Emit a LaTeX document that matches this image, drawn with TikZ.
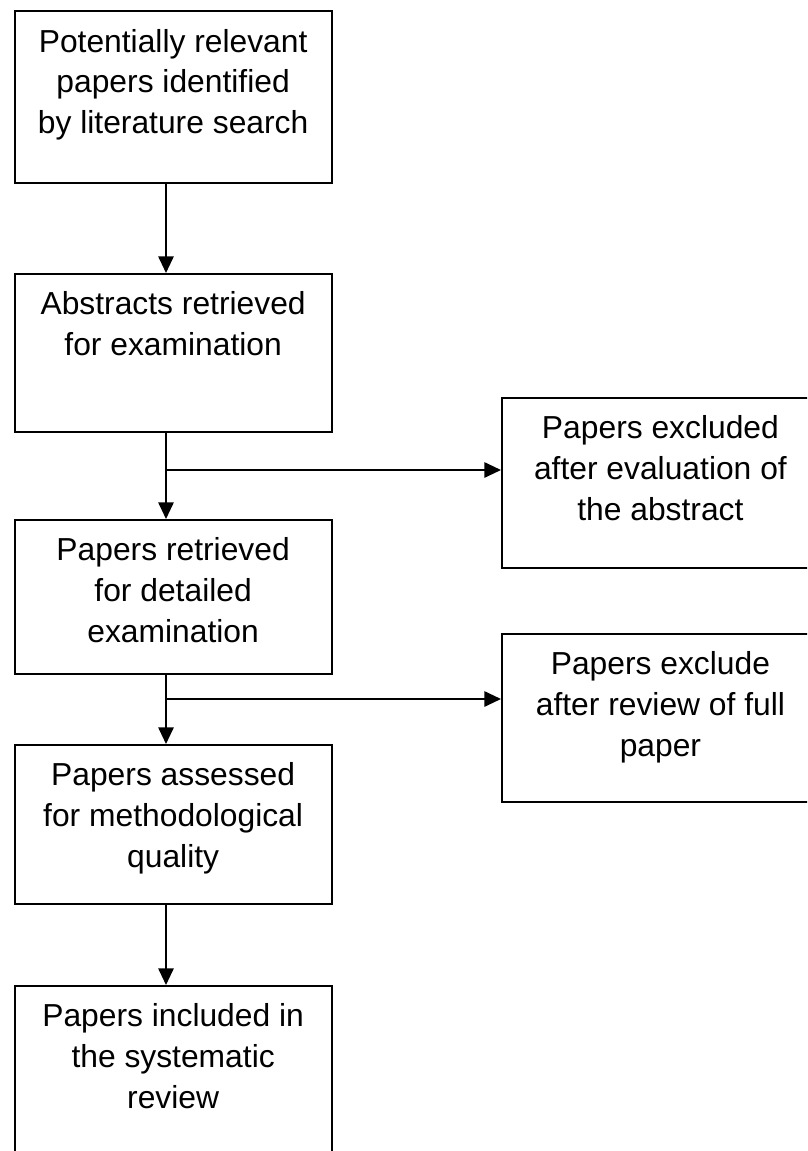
\documentclass[tikz,border=0pt]{standalone}
\usepackage{fontspec}
\setmainfont{Liberation Sans}
\usetikzlibrary{arrows.meta}
\newcommand{\boxtxt}[2]{\parbox[c][#1][t]{237.75pt}{\centering\fontsize{23.85pt}{30.4pt}\selectfont\rule{0pt}{30.75pt}#2\par}}
\tikzset{
  flowbox/.style={draw, line width=1.4pt, inner sep=0pt, anchor=north west},
  flowarrow/.style={line width=1.4pt, -{Triangle[length=12.5pt,width=11.5pt]}},
  flowline/.style={line width=1.4pt}
}
\begin{document}
\begin{tikzpicture}[x=0.75pt,y=-0.75pt]
\useasboundingbox (0,0) rectangle (807,1151);
\clip (0,0) rectangle (807,1151);
\node[flowbox] (b1) at (13.7,10.5) {\boxtxt{129pt}{Potentially relevant\\papers identified\\by literature search}};
\node[flowbox] (b2) at (13.7,273) {\boxtxt{118.5pt}{Abstracts retrieved\\for examination}};
\node[flowbox] (b3) at (501,397) {\boxtxt{127.5pt}{Papers excluded\\after evaluation of\\the abstract}};
\node[flowbox] (b4) at (13.7,519) {\boxtxt{115.5pt}{Papers retrieved\\for detailed\\examination}};
\node[flowbox] (b5) at (501,633) {\boxtxt{126pt}{Papers exclude\\after review of full\\paper}};
\node[flowbox] (b6) at (13.7,744) {\boxtxt{119.25pt}{Papers assessed\\for methodological\\quality}};
\node[flowbox] (b7) at (13.7,985) {\boxtxt{135pt}{Papers included in\\the systematic\\review}};
\coordinate (sp) at (166,0);
\coordinate (j1) at (166,470);
\coordinate (j2) at (166,699);
\draw[flowarrow] (b1.south -| sp) -- (b2.north -| sp);
\draw[flowarrow] (b2.south -| sp) -- (b4.north -| sp);
\draw[flowarrow] (j1) -- (j1 -| b3.west);
\draw[flowarrow] (b4.south -| sp) -- (b6.north -| sp);
\draw[flowarrow] (j2) -- (j2 -| b5.west);
\draw[flowarrow] (b6.south -| sp) -- (b7.north -| sp);
\end{tikzpicture}
\end{document}
